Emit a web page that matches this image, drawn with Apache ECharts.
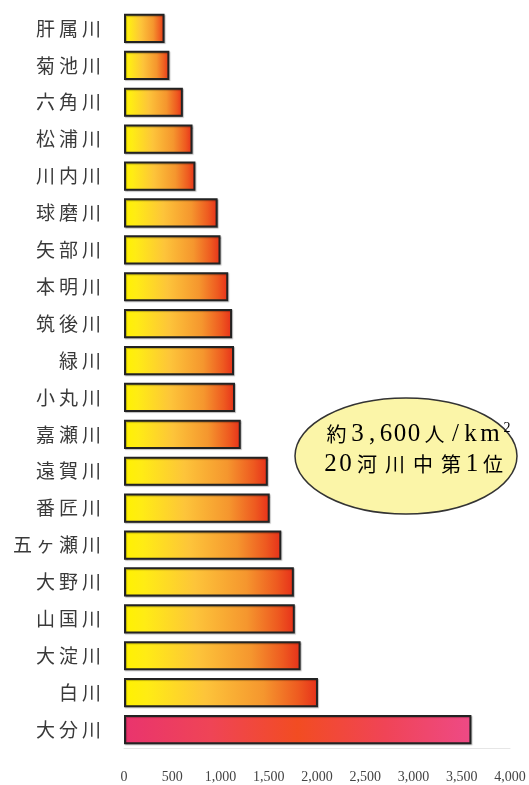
<!DOCTYPE html>
<html>
<head>
<meta charset="utf-8">
<script src="https://cdn.jsdelivr.net/npm/echarts@6/dist/echarts.min.js"></script>
<style>
  html, body { margin: 0; padding: 0; background: #ffffff; }
  #chart { width: 529px; height: 785px; }
</style>
</head>
<body>
<div id="chart"></div>
<script>
// Population density by river basin (people per km²), top to bottom
const rivers = [
  '肝属川', '菊池川', '六角川', '松浦川', '川内川', '球磨川', '矢部川', '本明川',
  '筑後川', '緑川', '小丸川', '嘉瀬川', '遠賀川', '番匠川', '五ヶ瀬川', '大野川',
  '山国川', '大淀川', '白川', '大分川'
];
const density = [
  420, 470, 610, 710, 740, 970, 1000, 1080,
  1120, 1140, 1150, 1210, 1490, 1510, 1630, 1760,
  1770, 1830, 2010, 3600
];
const highlightRiver = '大分川';
const xTicks = [0, 500, 1000, 1500, 2000, 2500, 3000, 3500, 4000];

const chart = echarts.init(document.getElementById('chart'), null, { renderer: 'canvas' });

const normalFill = new echarts.graphic.LinearGradient(0, 0, 1, 0, [
  { offset: 0, color: '#fff200' },
  { offset: 0.12, color: '#ffec14' },
  { offset: 0.42, color: '#fdc43a' },
  { offset: 0.72, color: '#f5962e' },
  { offset: 0.9, color: '#ee5a20' },
  { offset: 1, color: '#e6301a' }
]);
const highlightFill = new echarts.graphic.LinearGradient(0, 0, 1, 0, [
  { offset: 0, color: '#e9346e' },
  { offset: 0.25, color: '#ef4456' },
  { offset: 0.5, color: '#f24c22' },
  { offset: 0.75, color: '#f04456' },
  { offset: 1, color: '#ee4a86' }
]);

const barData = density.map((v, i) => ({
  value: v,
  itemStyle: rivers[i] === highlightRiver ? { color: highlightFill } : { color: normalFill }
}));

// letter-spaced category labels: each character in a fixed-width cell
const spaced = name => Array.from(name).map(ch => '{c|' + ch + '}').join('');

// callout text, built from fixed-width cells
function cells(list) {
  return list.map(([t, k]) => '{' + k + '|' + t + '}').join('');
}
const cjk = 'Noto Sans CJK JP';
const serif = 'Liberation Serif';
const calloutRich = {
  c27: { width: 27, align: 'center', fontFamily: cjk, fontSize: 20, color: '#333' },
  c28: { width: 28, align: 'center', fontFamily: cjk, fontSize: 20, color: '#333' },
  n14: { width: 14, align: 'center', fontFamily: serif, fontSize: 25, color: '#333' },
  n15: { width: 15, align: 'center', fontFamily: serif, fontSize: 25, color: '#333' },
  m24: { width: 24, align: 'center', fontFamily: serif, fontSize: 25, color: '#333' },
  sup: { width: 10, align: 'center', fontFamily: serif, fontSize: 14, color: '#333', verticalAlign: 'top', padding: [0, 0, 6, 0] }
};
const line1 = cells([
  ['約', 'c27'], ['3', 'n15'], [',', 'n14'], ['6', 'n14'], ['0', 'n14'], ['0', 'n14'],
  ['人', 'c27'], ['/', 'n15'], ['k', 'n15'], ['m', 'm24'], ['2', 'sup']
]);
const line2 = cells([
  ['2', 'n15'], ['0', 'n15'], ['河', 'c28'], ['川', 'c28'], ['中', 'c28'], ['第', 'c28'],
  ['1', 'n14'], ['位', 'c28']
]);

chart.setOption({
  backgroundColor: '#ffffff',
  animation: false,
  grid: { left: 124, right: 19, top: 10, bottom: 37 },
  xAxis: {
    type: 'value',
    min: xTicks[0],
    max: xTicks[xTicks.length - 1],
    interval: xTicks[1] - xTicks[0],
    axisLine: { show: true, lineStyle: { color: '#e6e6e6', width: 1 } },
    axisTick: { show: false },
    splitLine: { show: false },
    axisLabel: {
      margin: 22,
      fontFamily: serif,
      fontSize: 14,
      color: '#444',
      formatter: v => v.toLocaleString('en-US')
    }
  },
  yAxis: {
    type: 'category',
    data: rivers,
    inverse: true,
    axisLine: { show: false },
    axisTick: { show: false },
    splitLine: { show: false },
    axisLabel: {
      margin: 21,
      formatter: spaced,
      rich: {
        c: { width: 23, align: 'center', fontFamily: cjk, fontSize: 19, color: '#3a3a3a' }
      }
    }
  },
  series: [{
    type: 'bar',
    data: barData,
    barCategoryGap: '21%',
    itemStyle: {
      borderColor: '#222',
      borderWidth: 2,
      shadowColor: 'rgba(0,0,0,0.25)',
      shadowOffsetX: 1,
      shadowOffsetY: 1,
      shadowBlur: 1
    }
  }],
  graphic: [
    {
      type: 'ellipse',
      shape: { cx: 406, cy: 456, rx: 111, ry: 58 },
      style: { fill: '#fbf5a8', stroke: '#333', lineWidth: 1.5 }
    },
    {
      type: 'text',
      x: 323, y: 434,
      style: { text: line1, rich: calloutRich, verticalAlign: 'middle', align: 'left' }
    },
    {
      type: 'text',
      x: 323, y: 464,
      style: { text: line2, rich: calloutRich, verticalAlign: 'middle', align: 'left' }
    }
  ]
});
</script>
</body>
</html>
